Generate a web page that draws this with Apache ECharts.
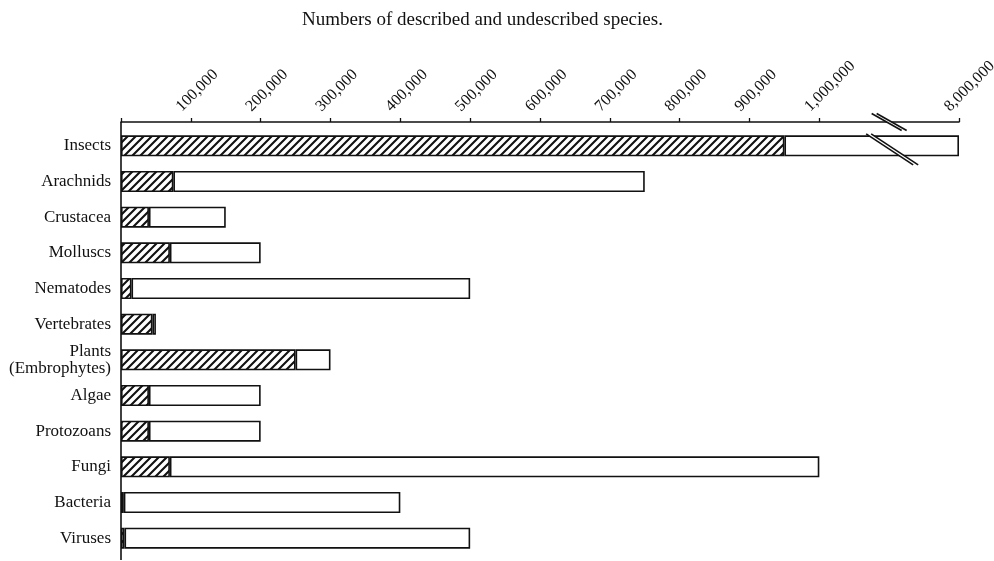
<!DOCTYPE html>
<html>
<head>
<meta charset="utf-8">
<script src="https://cdn.jsdelivr.net/npm/echarts@6/dist/echarts.min.js"></script>
<style>
html,body{margin:0;padding:0;background:#fff;}
#chart{width:994px;height:561px;}
</style>
</head>
<body>
<div id="chart"></div>
<script>
// ---- data ----
var categories = ['Insects','Arachnids','Crustacea','Molluscs','Nematodes','Vertebrates','Plants\n(Embrophytes)','Algae','Protozoans','Fungi','Bacteria','Viruses'];
var described  = [950000, 75000, 40000, 70000, 15000, 45000, 250000, 40000, 40000, 70000, 4000, 5000];
var totals     = [8000000, 750000, 150000, 200000, 500000, 50000, 300000, 200000, 200000, 1000000, 400000, 500000];
var tickValues = [100000,200000,300000,400000,500000,600000,700000,800000,900000,1000000,8000000];
var tickLabels = ['100,000','200,000','300,000','400,000','500,000','600,000','700,000','800,000','900,000','1,000,000','8,000,000'];

// ---- broken axis mapping (break between 1,000,000 and 8,000,000) ----
var BREAK_AT = 1100000;
var TOP_VALUE = 8000000, TOP_POS = 1200000;
function mapVal(v){
  if (v <= BREAK_AT) return v;
  return BREAK_AT + (v - BREAK_AT) * (TOP_POS - BREAK_AT) / (TOP_VALUE - BREAK_AT);
}
var tickPos = tickValues.map(mapVal);
var labelMap = {};
tickPos.forEach(function(p,i){ labelMap[p] = tickLabels[i]; });

var describedPos = described.map(mapVal);
var undescribedPos = totals.map(function(t,i){ return mapVal(t) - mapVal(described[i]); });

// hatch pattern
var S = 8;
var tile = document.createElement('canvas');
tile.width = S; tile.height = S;
var c = tile.getContext('2d');
c.fillStyle = '#fff'; c.fillRect(0,0,S,S);
c.strokeStyle = '#111'; c.lineWidth = 2.1;
c.beginPath();
c.moveTo(-1,S+1); c.lineTo(S+1,-1);
c.moveTo(-1,1); c.lineTo(1,-1);
c.moveTo(S-1,S+1); c.lineTo(S+1,S-1);
c.stroke();

var FONT = '"Liberation Serif","DejaVu Serif",serif';
var chart = echarts.init(document.getElementById('chart'), null, {renderer:'canvas'});
var option = {
  backgroundColor: '#fff',
  animation: false,
  title: {
    text: 'Numbers of described and undescribed species.',
    left: 297, top: 6,
    textStyle: {fontFamily: FONT, fontSize: 19, fontWeight: 'normal', color: '#111'}
  },
  grid: {left: 121, right: 35, top: 128, bottom: 5, containLabel: false, outerBoundsMode: 'none'},
  xAxis: {
    type: 'value', position: 'top', offset: 6,
    min: 0, max: TOP_POS,
    splitLine: {show: false},
    axisLine: {show: true, lineStyle: {color: '#111', width: 1.6}},
    axisTick: {show: true, length: 4, inside: false, customValues: [0].concat(tickPos), lineStyle: {color: '#111', width: 1.3}},
    axisLabel: {
      show: true, rotate: -45, margin: 1, customValues: tickPos,
      verticalAlign: 'bottom', align: 'left', padding: [0, 0, 9, 0],
      hideOverlap: false,
      fontFamily: FONT, fontSize: 16, color: '#111',
      formatter: function(v){ return labelMap[v] || ''; }
    }
  },
  yAxis: {
    type: 'category', inverse: true, data: categories,
    axisLine: {show: false},
    axisTick: {show: false},
    axisLabel: {fontFamily: FONT, fontSize: 17, color: '#111', margin: 10, lineHeight: 17, align: 'right'}
  },
  series: [
    {
      type: 'bar', stack: 's', barWidth: 21, data: describedPos,
      itemStyle: {color: {image: tile, repeat: 'repeat'}, borderColor: '#111', borderWidth: 1.6}
    },
    {
      type: 'bar', stack: 's', barWidth: 21, data: undescribedPos,
      itemStyle: {color: '#fff', borderColor: '#111', borderWidth: 1.6}
    },
    {
      type: 'custom', z: 10,
      data: [[BREAK_AT, 0]],
      encode: {x: 0, y: 1},
      renderItem: function(params, api){
        var cs = params.coordSys;
        var pt = api.coord([api.value(0), api.value(1)]);
        var ax = cs.y - 6;
        var ls = {stroke: '#111', lineWidth: 1.6};
        var children = [];
        // y axis line
        children.push({type:'line', shape:{x1: cs.x, y1: ax, x2: cs.x, y2: cs.y + cs.height + 4}, style: ls});
        // axis break
        var ahx = 15, ahy = 8.5, g = 2.5, ax0 = pt[0];
        children.push({type:'polygon', shape:{points:[[ax0-g-ahx, ax-ahy],[ax0+g-ahx, ax-ahy],[ax0+g+ahx, ax+ahy],[ax0-g+ahx, ax+ahy]]}, style:{fill:'#fff'}});
        children.push({type:'line', shape:{x1: ax0-g-ahx, y1: ax-ahy, x2: ax0-g+ahx, y2: ax+ahy}, style: ls});
        children.push({type:'line', shape:{x1: ax0+g-ahx, y1: ax-ahy, x2: ax0+g+ahx, y2: ax+ahy}, style: ls});
        // bar break
        var bx = pt[0] + 3, by = pt[1] + 3.5, bhx = 23.5, bhy = 15.5;
        children.push({type:'polygon', shape:{points:[[bx-g-bhx, by-bhy],[bx+g-bhx, by-bhy],[bx+g+bhx, by+bhy],[bx-g+bhx, by+bhy]]}, style:{fill:'#fff'}});
        children.push({type:'line', shape:{x1: bx-g-bhx, y1: by-bhy, x2: bx-g+bhx, y2: by+bhy}, style: ls});
        children.push({type:'line', shape:{x1: bx+g-bhx, y1: by-bhy, x2: bx+g+bhx, y2: by+bhy}, style: ls});
        return {type:'group', children: children};
      }
    }
  ]
};
chart.setOption(option);
</script>
</body>
</html>
